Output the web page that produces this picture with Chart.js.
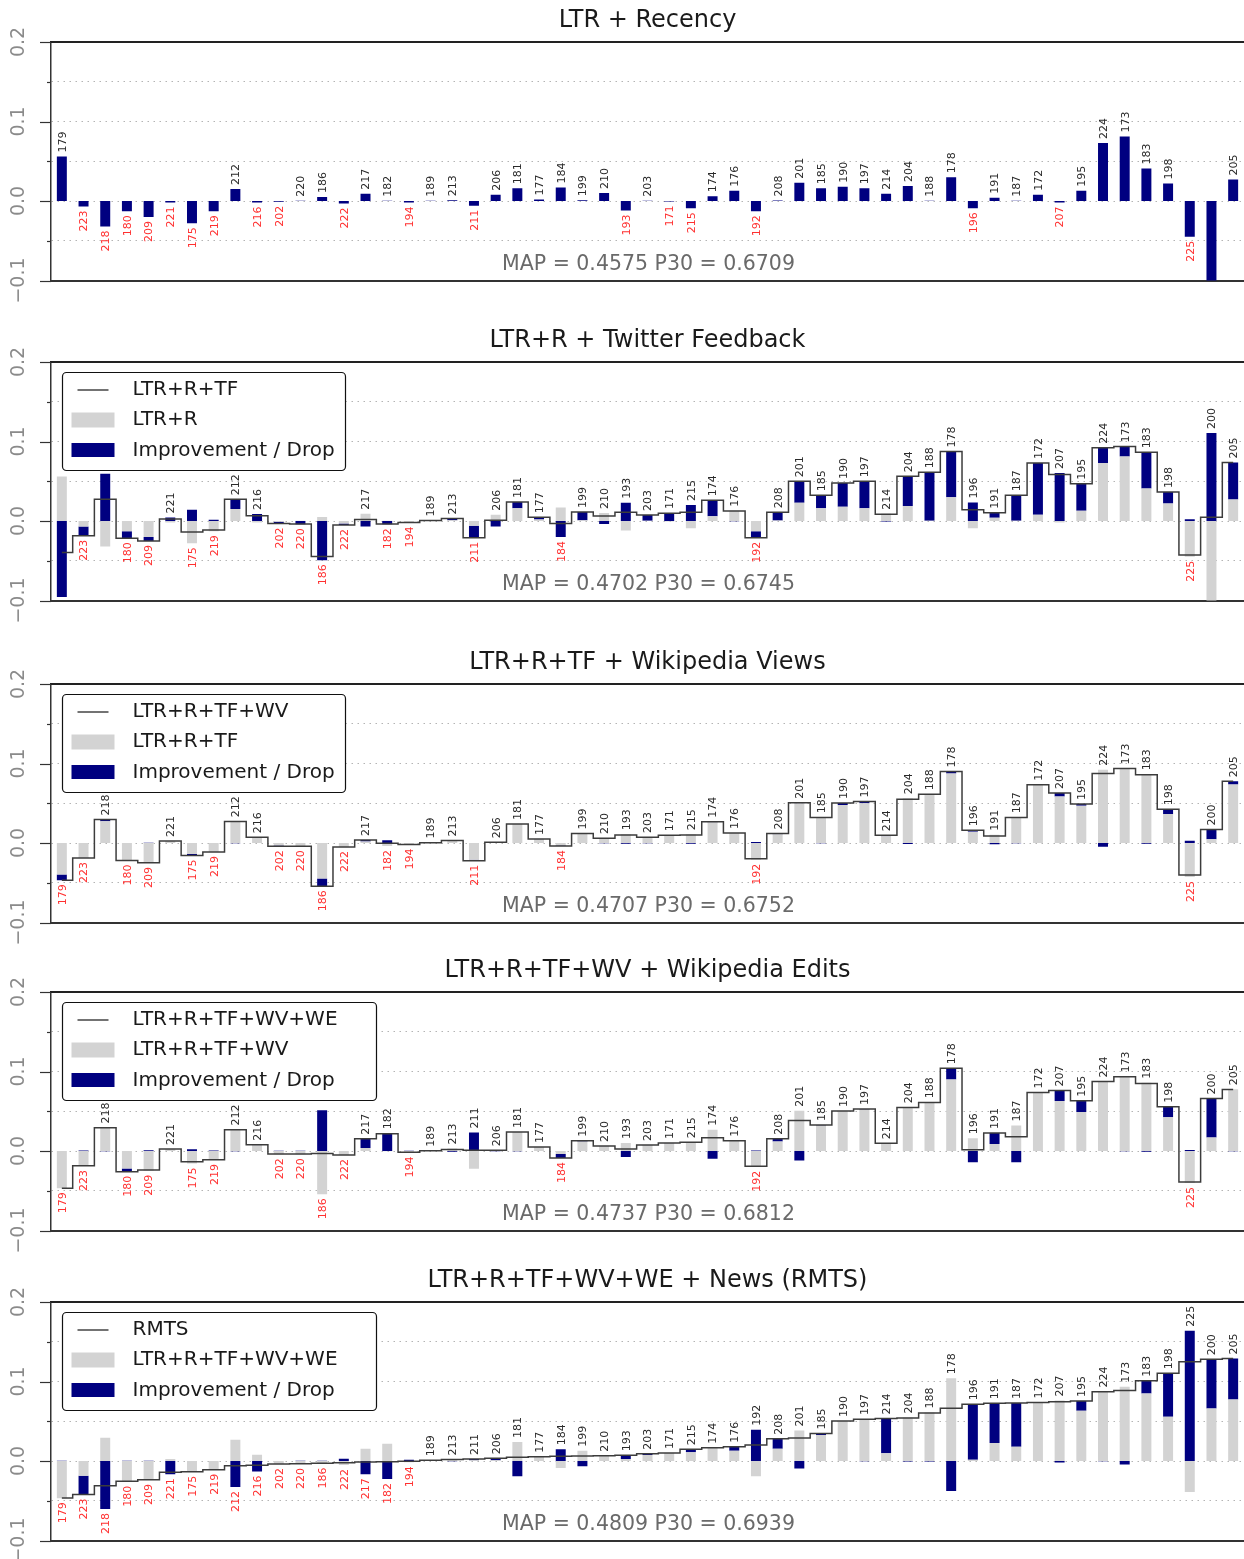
<!DOCTYPE html>
<html>
<head>
<meta charset="utf-8">
<script src="https://cdn.jsdelivr.net/npm/chart.js@4.4.1/dist/chart.umd.min.js"></script>
<style>
  body { margin: 0; background: #fff; }
  #wrap { position: relative; width: 1244px; height: 1559px; }
  #wrap canvas { position: absolute; left: 0; }
</style>
</head>
<body>
<div id="wrap"></div>
<script>
// topics, ordered as on the x axis (sorted by the final RMTS value)
var topics = ['179','223','218','180','209','221','175','219','212','216','202','220','186','222','217','182','194','189','213','211',
  '206','181','177','184','199','210','193','203','171','215','174','176','192','208','201','185','190','197','214','204',
  '188','178','196','191','187','172','207','195','224','173','183','198','225','200','205'];

// per-topic values of each method
var ltrR = [0.056,-0.007,-0.032,-0.013,-0.020,-0.002,-0.028,-0.013,0.015,-0.002,-0.001,0.0003,0.005,-0.003,0.009,0.0004,-0.002,0.0004,0.001,-0.006,
  0.008,0.016,0.002,0.017,0.001,0.010,-0.012,0.0003,-0.0005,-0.009,0.006,0.013,-0.013,0.0005,0.023,0.016,0.018,0.016,0.009,0.019,
  0.0003,0.030,-0.009,0.004,0.0003,0.008,-0.002,0.013,0.073,0.081,0.041,0.022,-0.045,-0.106,0.027];
var ltrRTF = [-0.0395,-0.0185,0.0273,-0.0218,-0.0252,0.0025,-0.0139,-0.0113,0.0273,0.0067,-0.003,-0.0038,-0.0445,-0.005,0.002,-0.0038,-0.002,0.0005,0.003,-0.021,
  0.001,0.024,0.0046,-0.003,0.0113,0.0063,0.011,0.0076,0.0097,0.011,0.026,0.0126,-0.021,0.011,0.050,0.0324,0.0479,0.050,0.0084,0.0563,
  0.0613,0.0874,0.0143,0.0105,0.0324,0.0731,0.0584,0.047,0.092,0.0937,0.0866,0.0366,-0.0429,0.0046,0.0735];
var ltrRTFWV = [-0.0468,-0.019,0.0295,-0.022,-0.0249,0.0025,-0.0156,-0.0114,0.027,0.0072,-0.0042,-0.0042,-0.0544,-0.005,0.0038,-0.0004,-0.002,0.0004,0.003,-0.0224,
  0.001,0.024,0.005,-0.0038,0.0118,0.0059,0.0101,0.0072,0.0097,0.0101,0.0266,0.0127,-0.0198,0.0118,0.0506,0.032,0.0502,0.0523,0.0097,0.0549,
  0.0612,0.0899,0.016,0.0089,0.032,0.0734,0.0629,0.049,0.0873,0.0937,0.0857,0.0426,-0.0401,0.0169,0.0776];
var ltrRTFWVWE = [-0.0469,-0.0184,0.0293,-0.026,-0.0238,0.0025,-0.0134,-0.0109,0.0268,0.0079,-0.0038,-0.0038,-0.003,-0.005,0.0155,0.0218,-0.0017,0.0004,0.002,0.0008,
  0.0008,0.0238,0.005,-0.0088,0.013,0.0063,0.0025,0.0077,0.010,0.0109,0.0167,0.013,-0.0192,0.0155,0.0385,0.0326,0.0502,0.0527,0.0096,0.0548,
  0.0611,0.1042,0.0017,0.0226,0.018,0.0736,0.0762,0.0632,0.0874,0.0933,0.0849,0.0556,-0.0389,0.0661,0.0774];
var rmts = [-0.0466,-0.042,-0.0312,-0.0256,-0.0235,-0.0143,-0.0134,-0.0109,-0.0059,-0.0052,-0.0038,-0.0034,-0.0027,-0.0022,-0.0013,-0.0008,-0.0002,0.0008,0.0018,0.0025,
  0.0034,0.0046,0.0054,0.0059,0.0063,0.0067,0.0071,0.0092,0.010,0.0147,0.0168,0.018,0.020,0.0281,0.029,0.0345,0.0504,0.0525,0.0534,0.0542,
  0.0605,0.0664,0.0714,0.0727,0.0729,0.0735,0.0744,0.0756,0.087,0.0888,0.1008,0.1105,0.125,0.128,0.129];

var series = [ltrR, ltrRTF, ltrRTFWV, ltrRTFWVWE, rmts];
var titles = ['LTR + Recency', 'LTR+R + Twitter Feedback', 'LTR+R+TF + Wikipedia Views',
  'LTR+R+TF+WV + Wikipedia Edits', 'LTR+R+TF+WV+WE + News (RMTS)'];
var scores = ['MAP = 0.4575 P30 = 0.6709', 'MAP = 0.4702 P30 = 0.6745', 'MAP = 0.4707 P30 = 0.6752',
  'MAP = 0.4737 P30 = 0.6812', 'MAP = 0.4809 P30 = 0.6939'];
var legendNames = [null, ['LTR+R+TF', 'LTR+R'], ['LTR+R+TF+WV', 'LTR+R+TF'],
  ['LTR+R+TF+WV+WE', 'LTR+R+TF+WV'], ['RMTS', 'LTR+R+TF+WV+WE']];
var yTicks = [0.2, 0.1, 0.0, -0.1];
var yTickText = ['0.2', '0.1', '0.0', '\u22120.1'];
var yMinor = [0.15, 0.05, -0.05];

var NAVY = '#000080', GRAY = '#d3d3d3', RED = '#ff3030';
var FONT = '"DejaVu Sans", sans-serif';
var tops = [0, 320, 642, 950, 1260];
var legendW = [0, 283, 283, 314, 314];

var overlay = {
  id: 'overlay',
  afterDatasetsDraw: function (chart, args, o) {
    var ctx = chart.ctx, a = chart.chartArea;
    var xs = chart.scales.x, ys = chart.scales.y;
    ctx.save();
    ctx.beginPath();
    ctx.rect(a.left, a.top, a.right - a.left, a.bottom - a.top);
    ctx.clip();
    ctx.font = '11px "DejaVu Sans", sans-serif';
    ctx.textBaseline = 'middle';
    topics.forEach(function (t, k) {
      var v = o.now[k];
      var hi = Math.max(0, v), lo = Math.min(0, v);
      if (o.base) {
        var g = o.base[k], d = v - g;
        hi = Math.max(hi, (g > 0 ? g : 0) + (d > 0 ? d : 0));
        lo = Math.min(lo, (g < 0 ? g : 0) + (d < 0 ? d : 0));
      }
      var x = xs.getPixelForValue(k);
      ctx.save();
      if (v >= 0) {
        ctx.translate(x, ys.getPixelForValue(hi) - 4);
        ctx.textAlign = 'left';
        ctx.fillStyle = '#2a2a2a';
      } else {
        ctx.translate(x, ys.getPixelForValue(lo) + 4);
        ctx.textAlign = 'right';
        ctx.fillStyle = RED;
      }
      ctx.rotate(-Math.PI / 2);
      ctx.fillText(t, 0, 1);
      ctx.restore();
    });
    // score line
    ctx.font = '20.5px ' + FONT;
    ctx.fillStyle = '#6a6a6a';
    ctx.textAlign = 'center';
    ctx.fillText(o.score, (a.left + a.right) / 2 + 1, a.bottom - 16);
    ctx.restore();
  },
  afterDraw: function (chart, args, o) {
    var ctx = chart.ctx, a = chart.chartArea, ys = chart.scales.y;
    ctx.save();
    // top frame line
    ctx.strokeStyle = '#222';
    ctx.lineWidth = 2;
    ctx.beginPath();
    ctx.moveTo(a.left - 1, a.top);
    ctx.lineTo(a.right, a.top);
    ctx.stroke();
    // y ticks
    ctx.lineWidth = 1.2;
    ctx.strokeStyle = '#333';
    yTicks.forEach(function (v) {
      var y = Math.round(ys.getPixelForValue(v)) + 0.5;
      ctx.beginPath(); ctx.moveTo(a.left - 11, y); ctx.lineTo(a.left, y); ctx.stroke();
    });
    yMinor.forEach(function (v) {
      var y = Math.round(ys.getPixelForValue(v)) + 0.5;
      ctx.beginPath(); ctx.moveTo(a.left - 4, y); ctx.lineTo(a.left, y); ctx.stroke();
    });
    ctx.fillStyle = '#8a8a8a';
    ctx.font = '19px ' + FONT;
    ctx.textAlign = 'center';
    ctx.textBaseline = 'middle';
    yTicks.forEach(function (v, i) {
      ctx.save();
      ctx.translate(19, ys.getPixelForValue(v));
      ctx.rotate(-Math.PI / 2);
      ctx.fillText(yTickText[i], 0, 0);
      ctx.restore();
    });
    // title
    ctx.fillStyle = '#1a1a1a';
    ctx.font = '24px ' + FONT;
    ctx.fillText(o.title, (a.left + a.right) / 2, a.top - 21);
    // legend
    if (o.legend) {
      var lx = a.left + 11.5, ly = a.top + 10.5, lw = o.legendW, lh = 98;
      ctx.fillStyle = '#fff';
      ctx.strokeStyle = '#111';
      ctx.lineWidth = 1.2;
      ctx.beginPath();
      ctx.roundRect(lx, ly, lw, lh, 4);
      ctx.fill();
      ctx.stroke();
      ctx.strokeStyle = '#444';
      ctx.lineWidth = 1.5;
      ctx.beginPath();
      ctx.moveTo(lx + 15, ly + 17.5);
      ctx.lineTo(lx + 46, ly + 17.5);
      ctx.stroke();
      ctx.fillStyle = GRAY;
      ctx.fillRect(lx + 9, ly + 40, 43, 15);
      ctx.fillStyle = NAVY;
      ctx.fillRect(lx + 9, ly + 70.5, 43, 14);
      ctx.fillStyle = '#1a1a1a';
      ctx.font = '20px ' + FONT;
      ctx.textAlign = 'left';
      ctx.textBaseline = 'middle';
      ctx.fillText(o.legend[0], lx + 70, ly + 17.5);
      ctx.fillText(o.legend[1], lx + 70, ly + 47.5);
      ctx.fillText('Improvement / Drop', lx + 70, ly + 78);
    }
    ctx.restore();
  }
};

function makePanel(i) {
  var c = document.createElement('canvas');
  c.width = 1244;
  c.height = 305;
  c.style.top = tops[i] + 'px';
  document.getElementById('wrap').appendChild(c);

  var now = series[i];
  var base = i > 0 ? series[i - 1] : null;
  var datasets = [];
  var barOpts = { type: 'bar', stack: 's', barPercentage: 0.46, categoryPercentage: 1, borderWidth: 0 };
  if (base) {
    var diff = now.map(function (v, k) { return v - base[k]; });
    datasets.push({ type: 'line', data: now, stack: 'line', stepped: 'middle', borderColor: '#3c3c3c',
      borderWidth: 1.5, pointRadius: 0, fill: false });
    datasets.push(Object.assign({ data: base, backgroundColor: GRAY }, barOpts));
    datasets.push(Object.assign({ data: diff, backgroundColor: NAVY }, barOpts));
  } else {
    datasets.push(Object.assign({ data: now, backgroundColor: NAVY }, barOpts));
  }

  new Chart(c, {
    type: 'bar',
    data: { labels: topics, datasets: datasets },
    options: {
      responsive: false,
      animation: false,
      layout: { padding: { top: 42, bottom: 24.5, left: 0, right: 0 } },
      plugins: {
        legend: { display: false },
        tooltip: { enabled: false },
        overlay: { now: now, base: base, title: titles[i], score: scores[i], legend: legendNames[i], legendW: legendW[i] }
      },
      scales: {
        x: {
          stacked: true,
          ticks: { display: false },
          grid: { display: false, drawTicks: false },
          border: { display: true, color: '#333', width: 2 }
        },
        y: {
          stacked: true,
          min: -0.1,
          max: 0.2,
          ticks: { display: false, stepSize: 0.05 },
          grid: {
            drawTicks: false,
            lineWidth: 1,
            color: function (ctx) {
              var v = ctx.tick ? ctx.tick.value : 0;
              return (Math.abs(v - 0.2) < 1e-6 || Math.abs(v + 0.1) < 1e-6) ? 'rgba(0,0,0,0)' : '#b4b4b4';
            }
          },
          border: { display: true, color: '#333', width: 1.5, dash: [1.5, 4.5] },
          afterFit: function (s) { s.width = 51; }
        }
      }
    },
    plugins: [overlay]
  });
}

for (var i = 0; i < 5; i++) makePanel(i);
</script>
</body>
</html>
